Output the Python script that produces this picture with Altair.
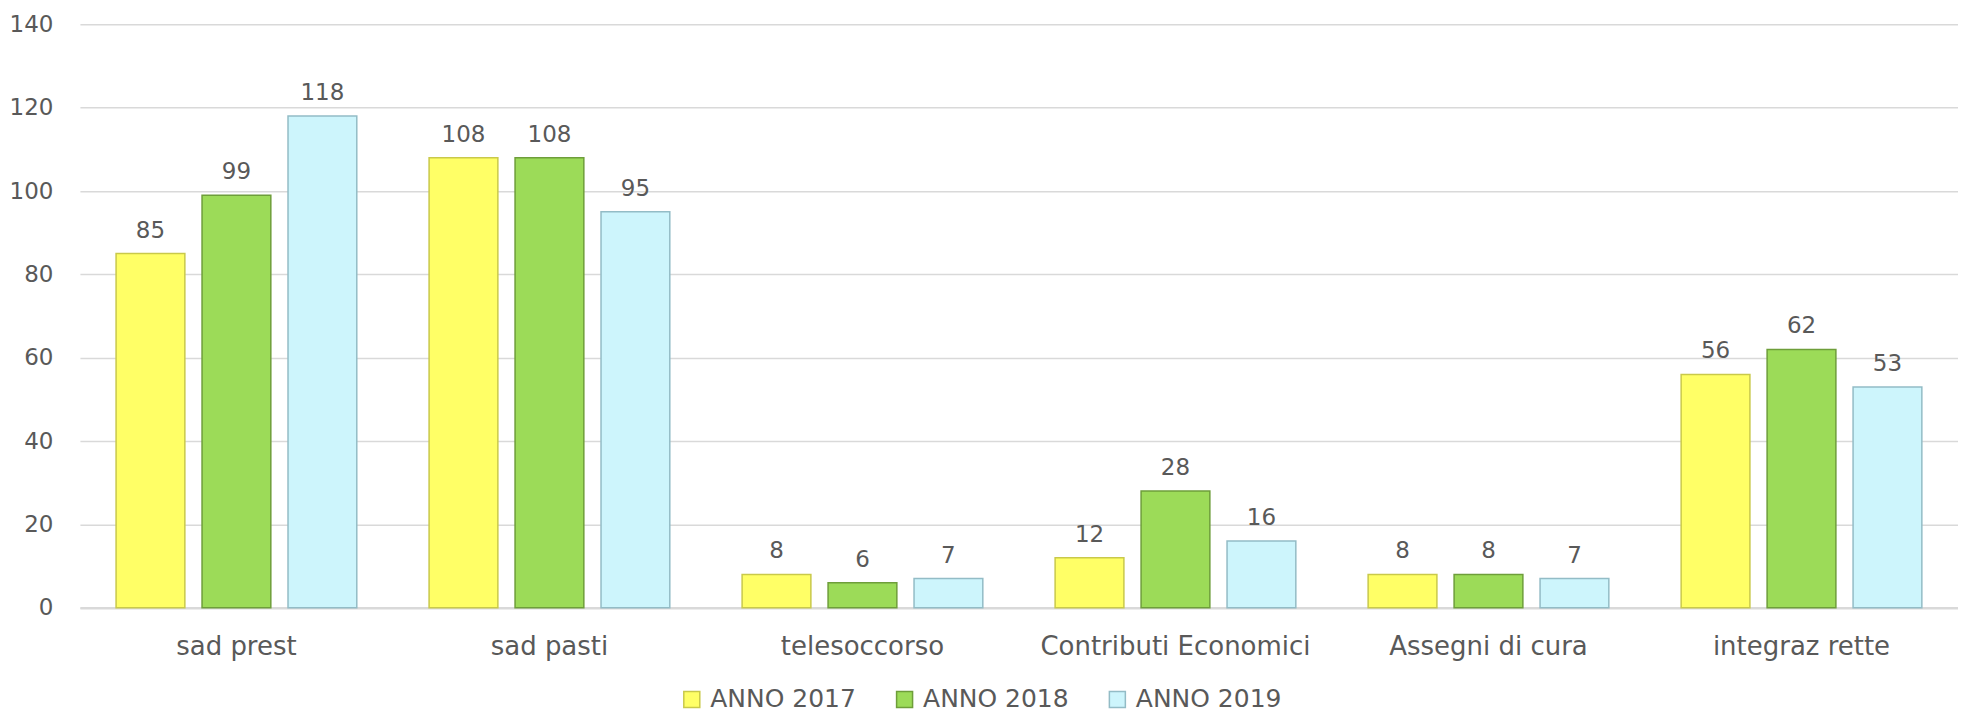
import altair as alt
import pandas as pd

categories = ["sad prest", "sad pasti", "telesoccorso", "Contributi Economici", "Assegni di cura", "integraz rette"]
series = ["ANNO 2017", "ANNO 2018", "ANNO 2019"]
anno_2017 = [85, 108, 8, 12, 8, 56]
anno_2018 = [99, 108, 6, 28, 8, 62]
anno_2019 = [118, 95, 7, 16, 7, 53]
y_ticks = [0, 20, 40, 60, 80, 100, 120, 140]

rows = []
for s, vals in zip(series, [anno_2017, anno_2018, anno_2019]):
    for c, v in zip(categories, vals):
        rows.append({"categoria": c, "anno": s, "valore": v})
df = pd.DataFrame(rows)

FONT = "DejaVu Sans"
TXT = "#595959"
fills = ["#FFFF66", "#9CDB58", "#CDF5FC"]
strokes = ["#C9C94A", "#6E9E3A", "#93BCC6"]

legend_def = alt.Legend(title=None, orient="none", direction="horizontal",
                        legendX=600, legendY=663, symbolType="square",
                        symbolSize=256, labelFont=FONT, labelFontSize=25,
                        labelColor=TXT, labelOffset=6, columnPadding=36,
                        symbolStrokeWidth=1.5, labelLimit=400)

x_axis = alt.Axis(labelAngle=0, labelFont=FONT, labelFontSize=26, labelColor=TXT,
                  labelPadding=26, labelLimit=400, ticks=False, domain=True,
                  domainColor="#D9D9D9", domainWidth=2.5, grid=False)
y_axis = alt.Axis(values=y_ticks, labelFont=FONT, labelFontSize=23, labelColor=TXT,
                  labelPadding=27, ticks=False, domain=False, grid=True,
                  gridColor="#D9D9D9", gridWidth=1.5)

x_enc = alt.X("categoria:N", sort=categories, title=None,
              scale=alt.Scale(paddingInner=0.231, paddingOuter=0.1155), axis=x_axis)
xo_enc = alt.XOffset("anno:N", sort=series, scale=alt.Scale(paddingInner=0.2, paddingOuter=0))
y_enc = alt.Y("valore:Q", title=None, scale=alt.Scale(domain=[0, 140], nice=False), axis=y_axis)

base = alt.Chart(df)

bars = base.mark_bar(strokeWidth=1.5).encode(
    x=x_enc,
    xOffset=xo_enc,
    y=y_enc,
    color=alt.Color("anno:N", sort=series, scale=alt.Scale(domain=series, range=fills),
                    legend=legend_def),
    stroke=alt.Stroke("anno:N", sort=series, scale=alt.Scale(domain=series, range=strokes),
                      legend=legend_def),
)

labels = base.mark_text(font=FONT, fontSize=23, color=TXT, baseline="alphabetic", dy=-16).encode(
    x=x_enc,
    xOffset=xo_enc,
    y=y_enc,
    text=alt.Text("valore:Q"),
)

chart = alt.layer(bars, labels).properties(
    width=1880, height=584,
    padding={"left": 72, "top": 16, "right": 0, "bottom": 105},
    autosize=alt.AutoSizeParams(type="none"),
    background="white",
).configure_view(stroke=None)

chart.save("out.html", embed_options={"renderer": "svg", "actions": False})
